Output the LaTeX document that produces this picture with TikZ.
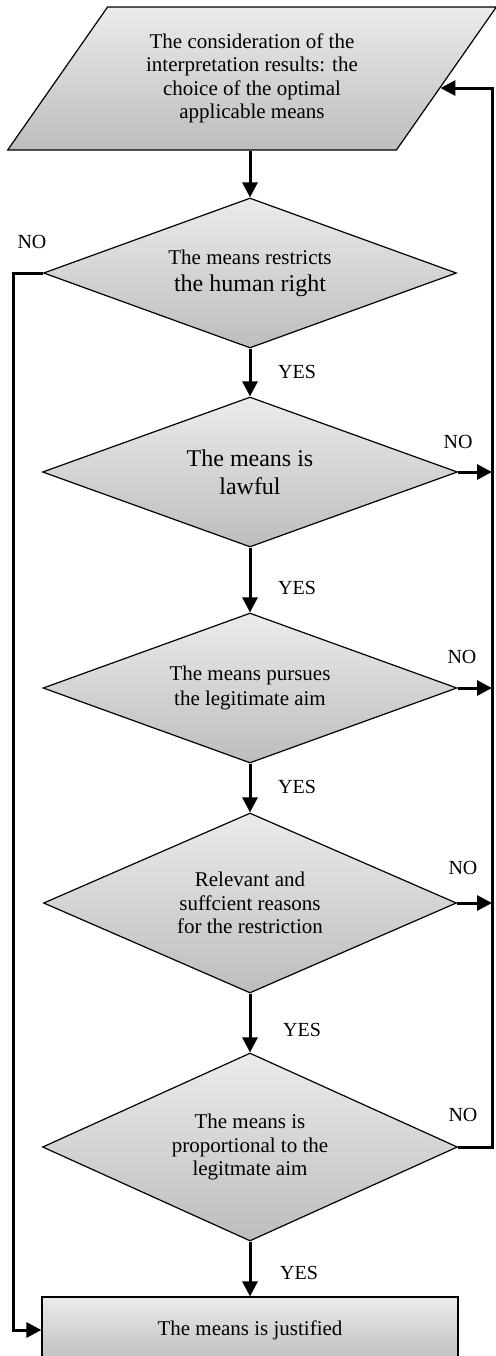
\documentclass[tikz,border=0pt]{standalone}
\usepackage{fontspec}
\setmainfont{Liberation Serif}
\usetikzlibrary{arrows.meta,shapes.geometric,calc}
\definecolor{shadeTop}{HTML}{EBEBEB}
\definecolor{shadeBot}{HTML}{BDBDBD}

\begin{document}
\begin{tikzpicture}[x=0.5pt,y=-0.5pt,
    font=\fontsize{10.5}{11.7}\selectfont,
    box/.style={draw,line width=.6pt,top color=shadeTop,bottom color=shadeBot,align=center,inner sep=0pt},
    decision/.style={box,shape=diamond,aspect=2.75},
    conn/.style={line width=1.5pt},
    arr/.style={conn,-{Triangle[length=7.5pt,width=7.5pt]}},
    lbl/.style={font=\fontsize{10}{12}\selectfont}]
    \useasboundingbox (0,0) rectangle (496,1356);
    \node[box,shape=trapezium,trapezium left angle=50.7,trapezium right angle=129.3,trapezium stretches,
      minimum width=245pt,minimum height=71.5pt] (para) at (252,78.5)
      {The consideration of the\\interpretation results: the\\choice of the optimal\\applicable means};
    \node[decision,minimum width=206.5pt,minimum height=75pt,font=\fontsize{10.5}{13.5}\selectfont] (d1) at (250,273)
      {The means restricts\\{\fontsize{12}{13.5}\selectfont the human right}};
    \node[decision,minimum width=207.5pt,minimum height=75pt,font=\fontsize{12}{14}\selectfont] (d2) at (250,472)
      {The means is\\lawful};
    \node[decision,minimum width=207pt,minimum height=75pt,font=\fontsize{10.5}{12.5}\selectfont] (d3) at (250,688)
      {The means pursues\\the legitimate aim};
    \node[decision,minimum width=206.5pt,minimum height=90pt] (d4) at (250,903)
      {Relevant and\\suffcient reasons\\for the restriction};
    \node[decision,minimum width=207.5pt,minimum height=94pt] (d5) at (250,1147)
      {The means is\\proportional to the\\legitmate aim};
    \node[box,minimum width=208pt,minimum height=33pt] (res) at (250,1330) {The means is justified};
    \coordinate (lft) at (13,0);
    \coordinate (rgt) at (492,0);
    \coordinate (back) at ($(para.bottom right corner)!.434!(para.top right corner)$);
    % yes branch
    \draw[arr] (d1.north |- para.south) -- (d1.north);
    \foreach \a/\b in {d1/d2,d2/d3,d3/d4,d4/d5,d5/res}{\draw[arr] (\a.south) -- (\b.north);}
    % no branches
    \foreach \a in {d2,d3,d4}{\draw[arr] (\a.east) -- (\a.east -| rgt);}
    \draw[arr] (d5.east) -- (d5.east -| rgt) -- (rgt |- back) -- (back);
    \draw[arr] (d1.west) -- (d1.west -| lft) -- (lft |- res.west) -- (res.west);
    \foreach \n/\x/\y/\t in {no1/32/242/NO,no2/458/442/NO,no3/462/657/NO,no4/463/868/NO,no5/463/1115/NO,
      yes1/297/372/YES,yes2/297/588/YES,yes3/297/787/YES,yes4/302/1030/YES,yes5/299/1273/YES}
      {\node[lbl] (\n) at (\x,\y) {\t};}
  \end{tikzpicture}
\end{document}
